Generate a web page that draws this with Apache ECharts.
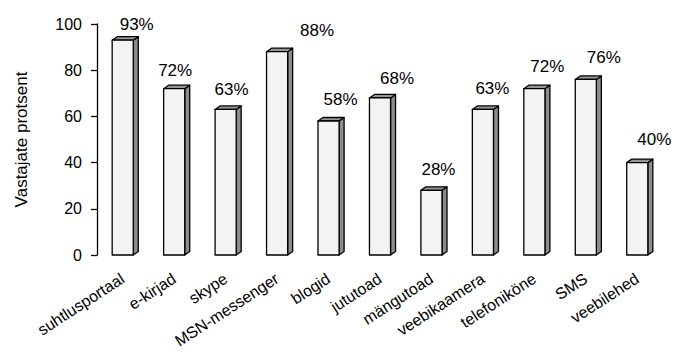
<!DOCTYPE html>
<html>
<head>
<meta charset="utf-8">
<script src="https://cdn.jsdelivr.net/npm/echarts@6/dist/echarts.min.js"></script>
<style>
html,body{margin:0;padding:0;background:#fff;}
#chart{width:675px;height:359px;}
</style>
</head>
<body>
<div id="chart"></div>
<script>
var categories = ['suhtlusportaal','e-kirjad','skype','MSN-messenger','blogid','jututoad','mängutoad','veebikaamera','telefoniköne','SMS','veebilehed'];
var values = [93, 72, 63, 88, 58, 68, 28, 63, 72, 76, 40];
var yTicks = [0, 20, 40, 60, 80, 100];
var yAxisName = 'Vastajate protsent';

// label placement tweaks (style, not data)
var labelOffsets = [[14,-7.5],[1,-9.5],[6,-11.5],[40,-12.5],[12,-13.5],[17,-10.5],[7,-12.5],[9.5,-12.5],[13,-14],[18,-13.5],[17,-14.5]];

var FONT = '"Liberation Sans", Arial, sans-serif';
var chart = echarts.init(document.getElementById('chart'), null, { renderer: 'svg' });

var customData = values.map(function(v, i){ return [i, v]; });
var labelData = values.map(function(v, i){
  return { value: v, label: { offset: labelOffsets[i] } };
});

chart.setOption({
  backgroundColor: '#ffffff',
  animation: false,
  grid: { left: 97, right: 12, top: 24, bottom: 104, containLabel: false },
  xAxis: {
    type: 'category',
    data: categories,
    axisLine: { show: false },
    axisTick: { show: false },
    axisLabel: {
      interval: 0, rotate: 33, margin: 22, hideOverlap: false,
      color: '#000', fontSize: 16, fontFamily: FONT
    },
    splitLine: { show: false }
  },
  yAxis: {
    type: 'value',
    min: yTicks[0], max: yTicks[yTicks.length - 1], interval: 20,
    name: yAxisName,
    nameLocation: 'middle',
    nameGap: 67,
    nameTextStyle: { color: '#000', fontSize: 17, fontFamily: FONT },
    axisLine: { show: true, lineStyle: { color: '#000', width: 1.3 } },
    axisTick: { show: true, inside: false, length: 6, lineStyle: { color: '#000', width: 1.3 } },
    axisLabel: { color: '#000', fontSize: 16, fontFamily: FONT, margin: 15 },
    splitLine: { show: false }
  },
  series: [
    {
      type: 'custom',
      data: customData,
      z: 2,
      renderItem: function(params, api){
        var idx = api.value(0);
        var v = api.value(1);
        var top = api.coord([idx, v]);
        var base = api.coord([idx, 0]);
        var bw = api.size([1, 0])[0] * 0.41;
        var cx = top[0];
        var x0 = cx - bw / 2, x1 = cx + bw / 2;
        var dx = 5, dy = 3.5;
        var stroke = { stroke: '#000', lineWidth: 1.3, lineJoin: 'round' };
        return {
          type: 'group',
          children: [
            { type: 'polygon', shape: { points: [[x1, top[1]], [x1 + dx, top[1] - dy], [x1 + dx, base[1] - dy], [x1, base[1]]] },
              style: Object.assign({ fill: '#8c8c8c' }, stroke) },
            { type: 'polygon', shape: { points: [[x0, top[1]], [x0 + dx, top[1] - dy], [x1 + dx, top[1] - dy], [x1, top[1]]] },
              style: Object.assign({ fill: '#969696' }, stroke) },
            { type: 'rect', shape: { x: x0, y: top[1], width: bw, height: base[1] - top[1] },
              style: Object.assign({ fill: '#f3f3f3' }, stroke) }
          ]
        };
      }
    },
    {
      type: 'bar',
      data: labelData,
      barWidth: '41%',
      silent: true,
      z: 3,
      itemStyle: { color: 'rgba(0,0,0,0)' },
      label: {
        show: true, position: 'top', distance: 0,
        formatter: '{c}%',
        color: '#000', fontSize: 17, fontFamily: FONT
      }
    }
  ]
});
</script>
</body>
</html>
